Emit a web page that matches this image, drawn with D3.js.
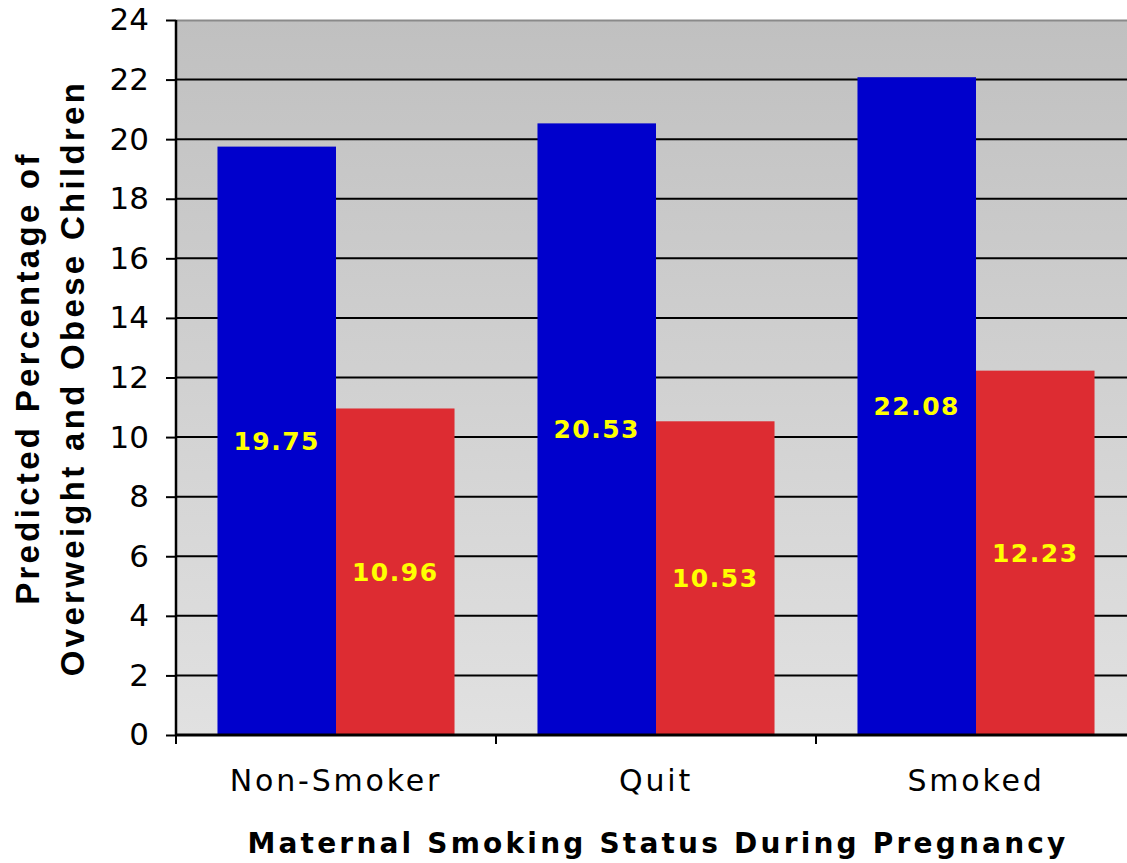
<!DOCTYPE html>
<html>
<head>
<meta charset="utf-8">
<script src="https://cdn.jsdelivr.net/npm/d3@7"></script>
<style>
  html, body { margin: 0; padding: 0; background: #fff; overflow: hidden; }
  svg { display: block; }
</style>
</head>
<body>
<svg id="chart" width="1127" height="863"></svg>
<script>
// Predicted percentage of overweight/obese children by maternal smoking status
const categories = ["Non-Smoker", "Quit", "Smoked"];
const seriesBlue = [19.75, 20.53, 22.08];
const seriesRed = [10.96, 10.53, 12.23];
const yTicks = [0, 2, 4, 6, 8, 10, 12, 14, 16, 18, 20, 22, 24];
const xTitle = "Maternal Smoking Status During Pregnancy";
const yTitleLines = ["Predicted Percentage of", "Overweight and Obese Children"];

const svg = d3.select("#chart");
const margin = { left: 176, top: 20, right: -9, bottom: 128 };
const W = 1127, H = 863;
const plotW = W - margin.left - margin.right;
const plotH = H - margin.top - margin.bottom;

const x = d3.scaleBand().domain(categories).range([0, plotW]).paddingInner(0).paddingOuter(0);
const inner = d3.scaleBand().domain([0, 1]).range([0, x.bandwidth()]).paddingInner(0).paddingOuter(0.35);
const y = d3.scaleLinear().domain([0, 24]).range([plotH, 0]);

const defs = svg.append("defs");
const grad = defs.append("linearGradient").attr("id", "bg").attr("x1", 0).attr("y1", 0).attr("x2", 0).attr("y2", 1);
grad.append("stop").attr("offset", "0%").attr("stop-color", "#c0c0c0");
grad.append("stop").attr("offset", "100%").attr("stop-color", "#e1e1e1");

const g = svg.append("g").attr("transform", `translate(${margin.left},${margin.top})`);

g.append("rect").attr("width", plotW).attr("height", plotH).attr("fill", "url(#bg)");

// gridlines
g.append("g").selectAll("line").data(yTicks.filter(d => d > 0 && d < 24)).join("line")
  .attr("x1", 0).attr("x2", plotW)
  .attr("y1", d => y(d)).attr("y2", d => y(d))
  .attr("stroke", "#000").attr("stroke-width", 2);

// top border
g.append("line").attr("x1", 0).attr("x2", plotW).attr("y1", 0.5).attr("y2", 0.5)
  .attr("stroke", "#8a8a8a").attr("stroke-width", 2);

// bars
const data = categories.map((c, i) => ({ c, vals: [seriesBlue[i], seriesRed[i]] }));
const colors = ["#0000cc", "#dd2c32"];
const groups = g.selectAll("g.cat").data(data).join("g").attr("class", "cat")
  .attr("transform", d => `translate(${x(d.c)},0)`);
groups.selectAll("rect").data(d => d.vals.map((v, k) => ({ v, k }))).join("rect")
  .attr("x", d => inner(d.k))
  .attr("width", inner.bandwidth())
  .attr("y", d => y(d.v))
  .attr("height", d => y(0) - y(d.v))
  .attr("fill", d => colors[d.k]);

// value labels at mid-height of each bar
groups.selectAll("text").data(d => d.vals.map((v, k) => ({ v, k }))).join("text")
  .attr("x", d => inner(d.k) + inner.bandwidth() / 2)
  .attr("y", d => y(d.v / 2))
  .attr("dy", "0.36em")
  .attr("text-anchor", "middle")
  .attr("font-family", "DejaVu Sans")
  .attr("font-weight", "bold")
  .attr("font-size", 25)
  .attr("letter-spacing", 1.5)
  .attr("fill", "#ffff00")
  .text(d => d.v.toFixed(2));

// y axis
const yAxis = g.append("g").call(d3.axisLeft(y).tickValues(yTicks).tickSize(10).tickPadding(17).tickFormat(d3.format("d")));
yAxis.select(".domain").attr("stroke", "#000").attr("stroke-width", 2.5).attr("d", `M0,${plotH}V0`);
yAxis.selectAll(".tick line").attr("stroke", "#000").attr("stroke-width", 2);
yAxis.selectAll(".tick text").attr("font-family", "DejaVu Sans").attr("font-size", 31).attr("fill", "#000");

// x axis
const xAxis = g.append("g").attr("transform", `translate(0,${plotH})`)
  .call(d3.axisBottom(x).tickSize(0).tickPadding(35));
xAxis.select(".domain").attr("stroke", "#000").attr("stroke-width", 3).attr("d", `M0,0H${plotW}`);
xAxis.selectAll(".tick text").attr("font-family", "DejaVu Sans").attr("font-size", 30)
  .attr("letter-spacing", 2.8).attr("fill", "#000").attr("dy", "0.71em");
// category separators
g.append("g").selectAll("line").data(categories).join("line")
  .attr("x1", d => x(d)).attr("x2", d => x(d))
  .attr("y1", plotH).attr("y2", plotH + 9)
  .attr("stroke", "#000").attr("stroke-width", 2);

// axis titles
svg.append("text")
  .attr("x", 658).attr("y", 853)
  .attr("text-anchor", "middle")
  .attr("font-family", "DejaVu Sans").attr("font-weight", "bold")
  .attr("font-size", 28).attr("letter-spacing", 3.2)
  .attr("fill", "#000").text(xTitle);

const yt = svg.append("text")
  .attr("transform", "translate(0,378) rotate(-90)")
  .attr("text-anchor", "middle")
  .attr("font-family", "Liberation Sans").attr("font-weight", "bold")
  .attr("font-size", 33).attr("letter-spacing", 3.3)
  .attr("fill", "#000");
yt.selectAll("tspan").data(yTitleLines).join("tspan")
  .attr("x", 0).attr("y", (d, i) => 39 + i * 45)
  .text(d => d);
</script>
</body>
</html>
